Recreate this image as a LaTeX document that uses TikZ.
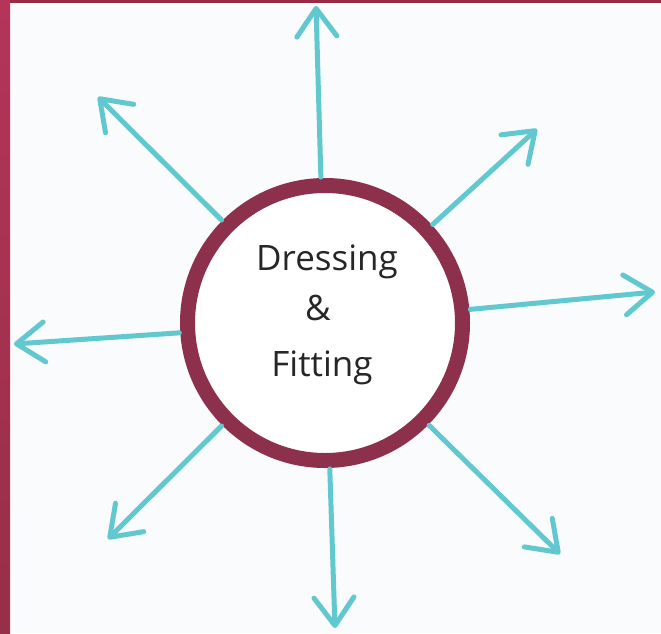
\documentclass[tikz,border=0pt]{standalone}
\usepackage{fontspec}
\setmainfont{Open Sans}
\usetikzlibrary{arrows.meta}
\definecolor{paper}{HTML}{F9FBFC}
\definecolor{ring}{HTML}{8C304B}
\definecolor{stripeTop}{HTML}{B5345A}
\definecolor{stripeBot}{HTML}{962F48}
\definecolor{aqua}{HTML}{62C8CF}
\tikzset{
  ray/.style={draw=aqua, line width=5pt, line cap=round, shorten <=146pt,
    -{Straight Barb[length=28pt,width=40pt,line width=5pt,round]}},
  label/.style={font=\fontsize{35}{37}\selectfont, text=black!85}
}
\begin{document}
\begin{tikzpicture}[x=1pt,y=-1pt]
\fill[paper] (0,0) rectangle (661,633);
\useasboundingbox (0,0) rectangle (661,633);
\shade[top color=stripeTop, bottom color=stripeBot] (0,0) rectangle (10,633);
\fill[ring!90!red] (10,0) rectangle (661,3);
\node[circle, draw=ring, line width=15pt, minimum size=275pt, fill=white] (c) at (325,323) {};
\coordinate (tU) at (316,6);
\coordinate (tUL) at (98,97);
\coordinate (tUR) at (537,129);
\coordinate (tR) at (655,292);
\coordinate (tL) at (14,344);
\coordinate (tDL) at (108,539);
\coordinate (tD) at (335,628);
\coordinate (tDR) at (560,554);
\foreach \t in {tU,tUL,tUR,tR,tL,tDL,tD,tDR}{
  \draw[ray] (c.center) -- (\t);
}
\node[label] (l1) at (327,262) {Dressing};
\node[label] (l2) at (318,308) {\&};
\node[label] (l3) at (322,368) {Fitting};
\end{tikzpicture}
\end{document}
